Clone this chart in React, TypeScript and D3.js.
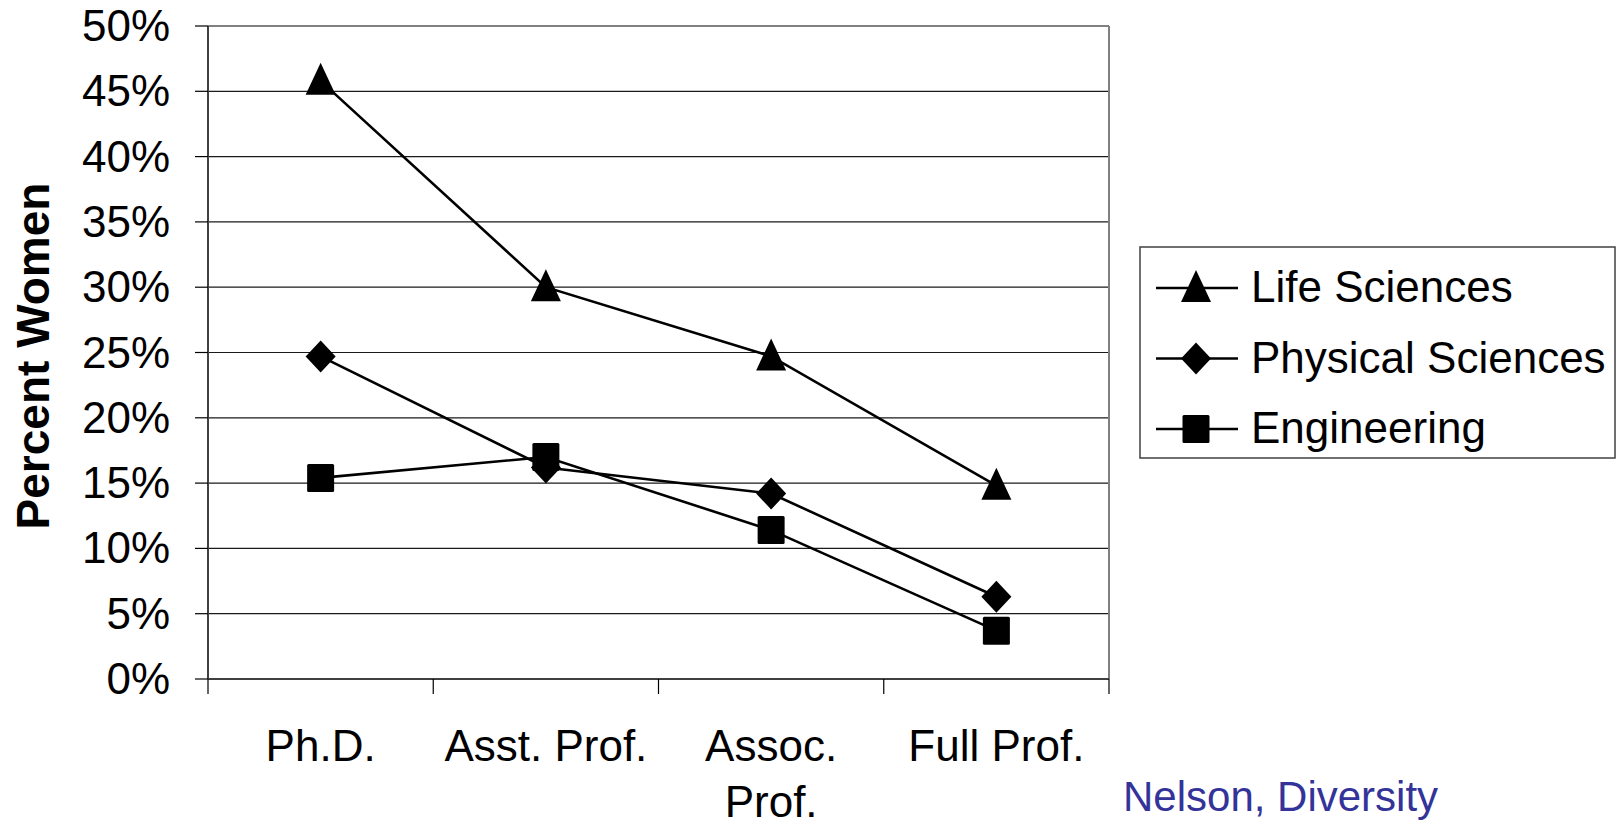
import React from "react";
import * as d3 from "d3";

const categories: string[][] = [["Ph.D."], ["Asst. Prof."], ["Assoc.", "Prof."], ["Full Prof."]];
const seriesNames = ["Life Sciences", "Physical Sciences", "Engineering"];
const lifeSciences = [45.8, 30.0, 24.7, 14.8];
const physicalSciences = [24.7, 16.2, 14.2, 6.3];
const engineering = [15.4, 17.0, 11.4, 3.7];
const yTicks = [0, 5, 10, 15, 20, 25, 30, 35, 40, 45, 50];
const markers = ["triangle", "diamond", "square"];

const W = 1618;
const H = 826;
const plot = { left: 208, right: 1109, top: 26, bottom: 679 };
const FONT = "'Liberation Sans', Arial, sans-serif";

function Marker({ type, x, y }: { type: string; x: number; y: number }) {
  if (type === "triangle") {
    const p = `M${x},${y - 18} L${x + 15},${y + 14} L${x - 15},${y + 14} Z`;
    return <path d={p} fill="#000" />;
  }
  if (type === "diamond") {
    const p = `M${x},${y - 16} L${x + 15},${y} L${x},${y + 16} L${x - 15},${y} Z`;
    return <path d={p} fill="#000" />;
  }
  return <rect x={x - 13.5} y={y - 14} width={27} height={28} rx={1.5} fill="#000" />;
}

export default function App() {
  const data = [lifeSciences, physicalSciences, engineering];
  const x = d3
    .scaleBand<number>()
    .domain(categories.map((_, i) => i))
    .range([plot.left, plot.right]);
  const y = d3.scaleLinear().domain([0, 50]).range([plot.bottom, plot.top]);
  const cx = (i: number) => (x(i) as number) + x.bandwidth() / 2;
  const line = d3
    .line<number>()
    .x((_, i) => cx(i))
    .y((d) => y(d));

  const xBounds = d3.range(categories.length + 1).map((i) => plot.left + i * x.bandwidth());

  return (
    <svg width={W} height={H} style={{ position: "absolute", left: 0, top: 0, background: "#fff" }} fontFamily={FONT}>
      <rect x={0} y={0} width={W} height={H} fill="#fff" />
      {/* gridlines */}
      {yTicks.filter((t) => t > 0 && t < 50).map((t) => (
        <line key={t} x1={plot.left} x2={plot.right} y1={y(t)} y2={y(t)} stroke="#1a1a1a" strokeWidth={1.2} />
      ))}
      {/* plot border top/right */}
      <line x1={plot.left} x2={plot.right} y1={plot.top} y2={plot.top} stroke="#808080" strokeWidth={2} />
      <line x1={plot.right} x2={plot.right} y1={plot.top} y2={plot.bottom} stroke="#808080" strokeWidth={2} />
      {/* axes */}
      <line x1={plot.left} x2={plot.left} y1={plot.top} y2={plot.bottom} stroke="#404040" strokeWidth={2} />
      <line x1={plot.left} x2={plot.right} y1={plot.bottom} y2={plot.bottom} stroke="#404040" strokeWidth={2} />
      {/* y ticks */}
      {yTicks.map((t) => (
        <g key={t}>
          <line x1={plot.left - 13} x2={plot.left} y1={y(t)} y2={y(t)} stroke="#000" strokeWidth={1.2} />
          <text x={170} y={y(t) + 15} textAnchor="end" fontSize={44} fill="#000">
            {t}%
          </text>
        </g>
      ))}
      {/* x ticks */}
      {xBounds.map((bx, i) => (
        <line key={i} x1={bx} x2={bx} y1={plot.bottom} y2={plot.bottom + 15} stroke="#000" strokeWidth={1.2} />
      ))}
      {categories.map((lines, i) => (
        <text key={i} x={cx(i)} y={761} textAnchor="middle" fontSize={44} fill="#000">
          {lines.map((l, j) => (
            <tspan key={j} x={cx(i)} dy={j === 0 ? 0 : 56}>
              {l}
            </tspan>
          ))}
        </text>
      ))}
      {/* y title */}
      <text
        transform={`translate(49,356) rotate(-90)`}
        textAnchor="middle"
        fontSize={46}
        fontWeight="bold"
        fill="#000"
      >
        Percent Women
      </text>
      {/* series */}
      {data.map((s, si) => (
        <g key={si}>
          <path d={line(s) || ""} fill="none" stroke="#000" strokeWidth={2.6} />
          {s.map((v, i) => (
            <Marker key={i} type={markers[si]} x={cx(i)} y={y(v)} />
          ))}
        </g>
      ))}
      {/* legend */}
      <rect x={1140} y={247} width={475} height={211} fill="#fff" stroke="#404040" strokeWidth={1.5} />
      {seriesNames.map((n, i) => {
        const ly = 288 + i * 70.5;
        return (
          <g key={n}>
            <line x1={1156} x2={1238} y1={ly} y2={ly} stroke="#000" strokeWidth={2.6} />
            <Marker type={markers[i]} x={1196} y={ly} />
            <text x={1251} y={ly + 14} fontSize={44} fill="#000">
              {n}
            </text>
          </g>
        );
      })}
      {/* source */}
      <text x={1123} y={811} fontSize={42} fill="#333399">
        Nelson, Diversity
      </text>
    </svg>
  );
}
